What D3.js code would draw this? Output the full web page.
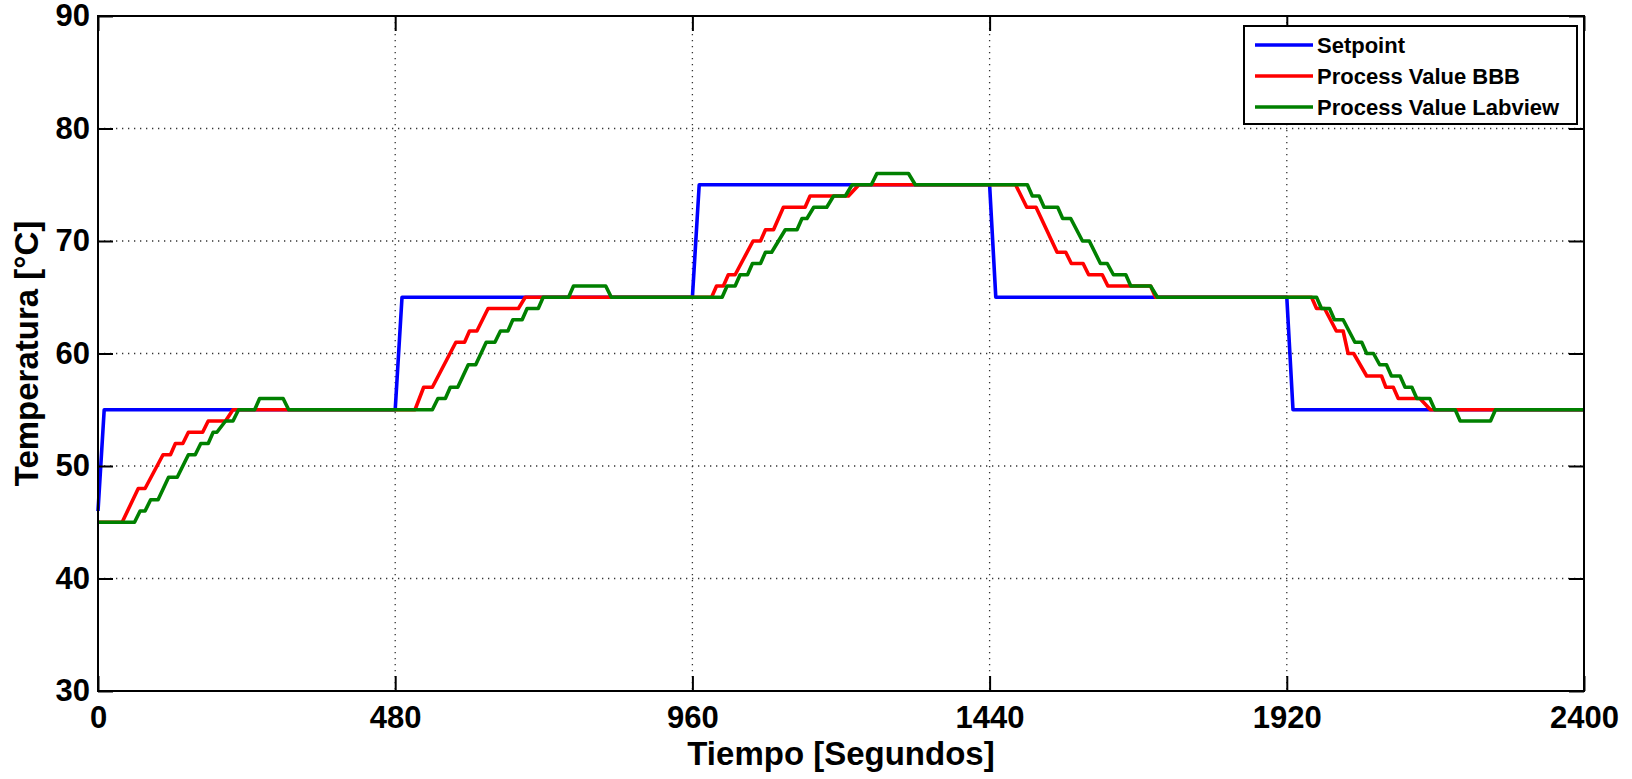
<!DOCTYPE html>
<html>
<head>
<meta charset="utf-8">
<script src="https://cdn.jsdelivr.net/npm/d3@7"></script>
<style>
  html, body { margin: 0; padding: 0; background: #fff; }
  svg { display: block; font-family: "Liberation Sans", Arial, sans-serif; font-weight: bold; }
</style>
</head>
<body>
<div id="chart"></div>
<script>
// time [s], temperature [°C]
const setpoint = [
  [0, 46], [10, 55], [480, 55], [491, 65], [960, 65], [971, 75],
  [1440, 75], [1450, 65], [1920, 65], [1930, 55], [2400, 55]
]

const pvBBB = [
  [0, 45], [39, 45], [65, 48], [76, 48], [105, 51], [117, 51], [125, 52], [137, 52],
  [146, 53], [169, 53], [178, 54], [206, 54], [218, 55],
  [512, 55], [526, 57], [540, 57], [578, 61], [592, 61], [600, 62], [612, 62],
  [630, 64], [679, 64], [690, 65],
  [991, 65], [999, 66], [1010, 66], [1018, 67], [1029, 67], [1058, 70], [1070, 70],
  [1078, 71], [1091, 71], [1107, 73], [1142, 73], [1150, 74], [1212, 74], [1229, 75],
  [1482, 75], [1500, 73], [1515, 73], [1549, 69], [1563, 69], [1572, 68], [1591, 68],
  [1600, 67], [1622, 67], [1631, 66], [1700, 66], [1708, 65],
  [1960, 65], [1968, 64], [1981, 64], [2000, 62], [2011, 62], [2019, 60], [2028, 60],
  [2049, 58], [2073, 58], [2080, 57], [2092, 57], [2100, 56], [2135, 56], [2152, 55],
  [2400, 55]
]

const pvLabview = [
  [0, 45], [59, 45], [68, 46], [76, 46], [85, 47], [97, 47], [114, 49], [128, 49],
  [146, 51], [157, 51], [166, 52], [178, 52], [186, 53], [192, 53], [206, 54], [218, 54],
  [227, 55], [253, 55], [261, 56], [299, 56], [308, 55],
  [540, 55], [549, 56], [561, 56], [569, 57], [581, 57], [598, 59], [610, 59], [627, 61],
  [641, 61], [650, 62], [662, 62], [670, 63], [685, 63], [693, 64], [711, 64], [719, 65],
  [760, 65], [768, 66], [820, 66], [829, 65],
  [1008, 65], [1016, 66], [1029, 66], [1037, 67], [1049, 67], [1057, 68], [1070, 68],
  [1078, 69], [1088, 69], [1110, 71], [1129, 71], [1137, 72], [1145, 72], [1156, 73],
  [1177, 73], [1188, 74], [1207, 74], [1218, 75], [1249, 75], [1258, 76], [1309, 76],
  [1320, 75],
  [1501, 75], [1509, 74], [1520, 74], [1528, 73], [1550, 73], [1558, 72], [1571, 72],
  [1590, 70], [1601, 70], [1619, 68], [1630, 68], [1640, 67], [1660, 67], [1668, 66],
  [1700, 66], [1711, 65],
  [1968, 65], [1976, 64], [1989, 64], [1997, 63], [2011, 63], [2030, 61], [2041, 61],
  [2049, 60], [2060, 60], [2070, 59], [2081, 59], [2089, 58], [2103, 58], [2111, 57],
  [2122, 57], [2130, 56], [2151, 56], [2159, 55], [2192, 55], [2200, 54], [2249, 54],
  [2257, 55], [2400, 55]
]

const xTicks = [0, 480, 960, 1440, 1920, 2400]
const yTicks = [30, 40, 50, 60, 70, 80, 90]
const seriesNames = ['Setpoint', 'Process Value BBB', 'Process Value Labview']
const seriesColors = ['#0000ff', '#ff0000', '#008000']

const WIDTH = 1632, HEIGHT = 779
const MARGIN = { top: 16, right: 48, bottom: 88, left: 98 }
const W = WIDTH - MARGIN.left - MARGIN.right
const H = HEIGHT - MARGIN.top - MARGIN.bottom

const svg = d3.select('#chart').append('svg').attr('width', WIDTH).attr('height', HEIGHT)
const g = svg.append('g').attr('transform', `translate(${MARGIN.left},${MARGIN.top})`)

const x = d3.scaleLinear().domain([0, 2400]).range([0, W])
const y = d3.scaleLinear().domain([30, 90]).range([H, 0])

// ── grid ─────────────────────────────────────────────────────────
const gridStyle = sel => sel.attr('stroke', '#333').attr('stroke-width', 1.3).attr('stroke-dasharray', '1.3 4.7')
g.append('g').selectAll('line').data(xTicks.slice(1, -1)).join('line')
  .attr('x1', d => x(d)).attr('x2', d => x(d)).attr('y1', 0).attr('y2', H)
  .call(gridStyle)
g.append('g').selectAll('line').data(yTicks.slice(1, -1)).join('line')
  .attr('x1', 0).attr('x2', W).attr('y1', d => y(d)).attr('y2', d => y(d))
  .call(gridStyle)

// ── series ───────────────────────────────────────────────────────
const line = d3.line().x(d => x(d[0])).y(d => y(d[1]))
;[setpoint, pvBBB, pvLabview].forEach((data, i) => {
  g.append('path').datum(data)
    .attr('d', line)
    .attr('fill', 'none').attr('stroke', seriesColors[i])
    .attr('stroke-width', 3.6).attr('stroke-linejoin', 'round')
})

// ── axes ─────────────────────────────────────────────────────────
const styleAxis = sel => {
  sel.select('.domain').remove()
  sel.selectAll('.tick line').attr('stroke', '#000').attr('stroke-width', 2)
  sel.selectAll('text').attr('fill', '#000').style('font-size', '31px').style('font-weight', 'bold')
}
g.append('g').attr('transform', `translate(0,${H})`)
  .call(d3.axisBottom(x).tickValues(xTicks).tickFormat(d3.format('d'))
    .tickSizeInner(-15).tickSizeOuter(0).tickPadding(15))
  .call(styleAxis)
g.append('g')
  .call(d3.axisLeft(y).tickValues(yTicks).tickSizeInner(-15).tickSizeOuter(0).tickPadding(8))
  .call(styleAxis)
g.append('g')
  .call(d3.axisTop(x).tickValues(xTicks).tickSizeInner(-15).tickSizeOuter(0).tickFormat(''))
  .call(styleAxis)
g.append('g').attr('transform', `translate(${W},0)`)
  .call(d3.axisRight(y).tickValues(yTicks).tickSizeInner(-15).tickSizeOuter(0).tickFormat(''))
  .call(styleAxis)

g.append('rect').attr('width', W).attr('height', H)
  .attr('fill', 'none').attr('stroke', '#000').attr('stroke-width', 2)

g.append('text')
  .attr('x', W / 2).attr('y', H + 74).attr('text-anchor', 'middle')
  .style('font-size', '33px').text('Tiempo [Segundos]')
g.append('text').attr('transform', 'rotate(-90)')
  .attr('x', -H / 2).attr('y', -60).attr('text-anchor', 'middle')
  .style('font-size', '33px').text('Temperatura [°C]')

// ── legend ───────────────────────────────────────────────────────
const lg = svg.append('g').attr('transform', 'translate(1244,26)')
lg.append('rect').attr('width', 333).attr('height', 98)
  .attr('fill', '#fff').attr('stroke', '#000').attr('stroke-width', 2)
const rows = lg.selectAll('g.row').data(seriesNames).join('g')
  .attr('class', 'row').attr('transform', (d, i) => `translate(0,${19 + i * 31})`)
rows.append('line').attr('x1', 11).attr('x2', 69)
  .attr('stroke', (d, i) => seriesColors[i]).attr('stroke-width', 3.6)
rows.append('text').attr('x', 73).attr('dy', '0.36em')
  .style('font-size', '22px').text(d => d)
</script>
</body>
</html>
